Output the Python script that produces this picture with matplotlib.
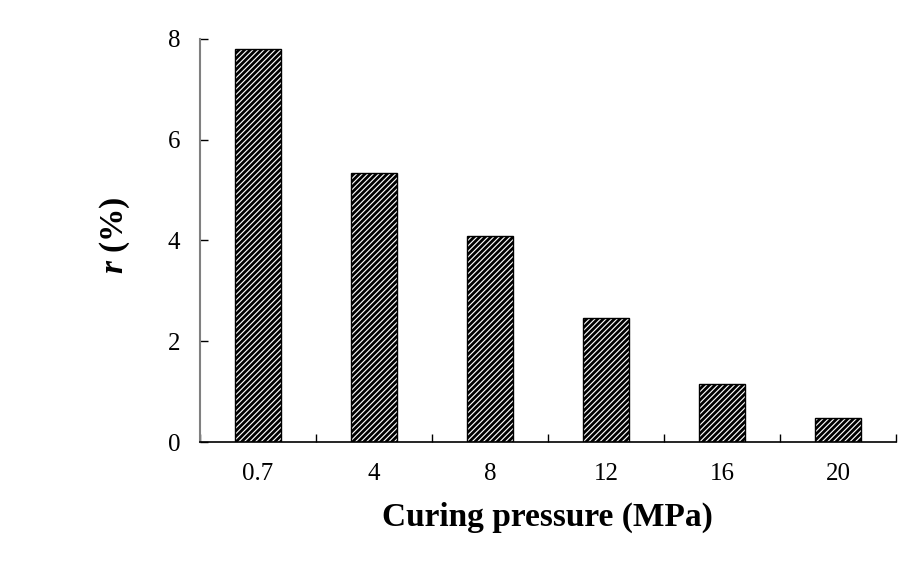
import numpy as np
import matplotlib
matplotlib.use('Agg')
import matplotlib.pyplot as plt

# data
pressures = ['0.7', '4', '8', '12', '16', '20']
r_values = [7.80, 5.33, 4.08, 2.47, 1.15, 0.48]

plt.rcParams['font.family'] = 'Liberation Serif'
plt.rcParams['mathtext.fontset'] = 'custom'
plt.rcParams['mathtext.it'] = 'Liberation Serif:italic:bold'
plt.rcParams['mathtext.rm'] = 'Liberation Serif:bold'
plt.rcParams['hatch.linewidth'] = 2.0

fig = plt.figure(figsize=(9, 5.64), dpi=100)
ax = fig.add_axes([0.222, 0.2163, 0.7736, 0.7146])

x = np.arange(len(pressures))
ax.bar(x, r_values, width=0.4, color='white', edgecolor='black',
       hatch='//////', linewidth=1.0)

ax.set_xlim(-0.5, len(pressures) - 0.5)
ax.set_ylim(0, 8)
ax.set_yticks([0, 2, 4, 6, 8])
ax.set_xticks(x)
ax.set_xticklabels(pressures)
ax.tick_params(axis='x', length=0, labelsize=18, pad=15)
ax.set_xticks(np.arange(len(pressures) + 1) - 0.5, minor=True)
ax.tick_params(axis='x', which='minor', direction='in', length=6, width=1)
ax.tick_params(axis='y', direction='in', length=6, width=1, labelsize=18, pad=14)

ax.spines['top'].set_visible(False)
ax.spines['right'].set_visible(False)
ax.spines['left'].set_color('#808080')
ax.spines['left'].set_linewidth(1.5)
ax.spines['bottom'].set_linewidth(1.2)

ax.set_xlabel('Curing pressure (MPa)', fontsize=24, fontweight='bold', labelpad=12)
fig.text(0.128, 0.583, '$r$ (%)', rotation=90, fontsize=24, fontweight='bold',
         ha='center', va='center')

fig.savefig('out.png', dpi=100)
